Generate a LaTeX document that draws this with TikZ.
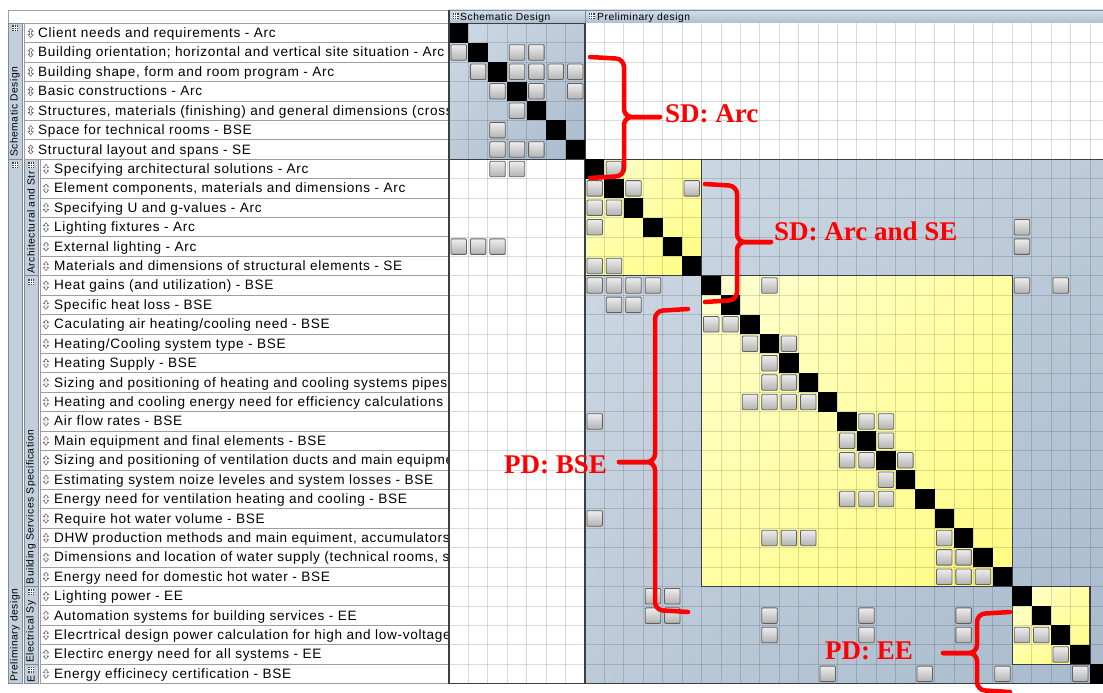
\documentclass[tikz,border=0pt]{standalone}
\usepackage{fontspec}
\setmainfont{Liberation Sans}[LetterSpace=5]
\newfontfamily\bracefont{Liberation Serif}
\usetikzlibrary{positioning,shadings}

\definecolor{barbl}{HTML}{C3D0DC}
\definecolor{barln}{HTML}{7D8A98}
\definecolor{hdA}{HTML}{D3DEE8}
\definecolor{hdB}{HTML}{AEBFCF}
\definecolor{blA}{HTML}{CFDAE5}
\definecolor{blB}{HTML}{BDCBD9}
\definecolor{blC}{HTML}{A7BACC}
\definecolor{ylA}{HTML}{FFFFD4}
\definecolor{ylB}{HTML}{FFFFA2}
\definecolor{ylC}{HTML}{FFFB82}
\definecolor{blkln}{HTML}{3A3F46}

\tikzset{
  rowlbl/.style={anchor=base west, inner sep=0pt, font=\fontsize{13.6}{14}\selectfont},
  cellbox/.style={draw=black!38, line width=.9pt, fill=white},
  barbox/.style={draw=barln, line width=.8pt, fill=barbl},
  barlbl/.style={rotate=90, anchor=west, inner sep=0pt, font=\fontsize{10.3}{11}\selectfont},
  hdrlbl/.style={anchor=base west, inner sep=0pt, font=\fontsize{10.3}{11}\selectfont},
  blk/.style={draw=blkln, line width=1.3pt},
  gridln/.style={draw=black, opacity=.14, line width=.7pt},
  mk/.style={draw=black!62, line width=.8pt, rounded corners=1pt, top color=black!7,
    bottom color=black!30, minimum size=15.5pt, inner sep=0pt, outer sep=0pt},
  dg/.style={fill=black, minimum size=19.42pt, inner sep=0pt, outer sep=0pt},
  brc/.style={draw=red, line width=4.5pt, rounded corners=8pt, line cap=round},
  brclbl/.style={text=red, inner sep=0pt, font=\bracefont\bfseries\fontsize{27}{30}\selectfont},
  gico/.pic={\fill[black!75] (-3,-3) rectangle (3,3);
    \draw[white, line width=.5pt] (-3,-1) -- (3,-1) (-3,1) -- (3,1) (-1,-3) -- (-1,3) (1,-3) -- (1,3);},
  updn/.pic={\draw[black!70, line width=.45pt, fill=white] (0,-4.5) -- (2.6,-1.6) -- (1,-1.6)
    -- (1,1.6) -- (2.6,1.6) -- (0,4.5) -- (-2.6,1.6) -- (-1,1.6) -- (-1,-1.6) -- (-2.6,-1.6) -- cycle;}
}

\begin{document}
\begin{tikzpicture}[x=1pt,y=-1pt]
\useasboundingbox (0,0) rectangle (1103,693);
\clip (0,0) rectangle (1103,693);

% header strip
\draw[cellbox] (8,10) rectangle (449,23.3);
\shade[draw=barln, top color=hdA, bottom color=hdB] (449,10) rectangle (585,23.3);
\shade[draw=barln, top color=hdA, bottom color=hdB] (585,10) rectangle (1110,23.3);
\pic at (455.5,16.5) {gico};
\pic at (591.5,16.5) {gico};
\node[hdrlbl] (hsd) at (460,20.6) {Schematic Design};
\node[hdrlbl] (hpd) at (597,20.6) {Preliminary design};

% matrix
\begin{scope}[shift={(449,23.3)}, x=19.42pt, y=-19.42pt]
  \fill[white] (0,0) rectangle (34,34);
  \shade[upper left=blA, upper right=blB, lower left=blB, lower right=blC] (0,0) rectangle (7,7);
  \shade[upper left=blA, upper right=blB, lower left=blB, lower right=blC] (7,7) rectangle (34,34);
  \foreach \a/\b in {7/13,13/29,29/33}
    \shade[upper left=ylA, upper right=ylB, lower left=ylB, lower right=ylC] (\a,\a) rectangle (\b,\b);
  \foreach \i in {1,...,33}
    \draw[gridln] (\i,0) -- (\i,34) (0,\i) -- (34,\i);
  \draw[blk] (0,0) rectangle (7,7);
  \draw[blk] (7,0) -- (7,34) (0,7) -- (34,7) (0,0) -- (0,34) -- (34,34);
  \foreach \a/\b in {7/13,13/29,29/33}
    \draw[blk] (\a,\a) rectangle (\b,\b);
  \foreach \r in {0,...,33}
    \node[dg] (d\r) at (\r+.5,\r+.5) {};
  \foreach \r/\cs in {1/{0,3,4},2/{1,3,4,5,6},3/{2,4,6},4/{3},5/{2},6/{2,3,4},
      7/{2,3,8},8/{7,9,12},9/{7,8},10/{7,29},11/{0,1,2,29},12/{7,8},
      13/{7,8,9,10,16,29,31},14/{8,9},15/{13,14},16/{15,17},17/{16},18/{16,17},
      19/{15,16,17,18},20/{7,21,22},21/{20,22},22/{20,21,23},23/{22},24/{20,21,22},
      25/{7},26/{16,17,18,25},27/{25,26},28/{25,26,27},29/{10,11},30/{10,11,16,21,26},
      31/{16,21,26,29,30},32/{31},33/{19,24,28,32}}
    \foreach \c in \cs
      \node[mk] (m\r-\c) at (\c+.5,\r+.5) {};
\end{scope}

% group bars
\draw[barbox] (8,23.3) rectangle (22,159.2);
\draw[barbox] (8,159.2) rectangle (22,683.6);
\draw[barbox] (24,159.2) rectangle (38,275.8);
\draw[barbox] (24,275.8) rectangle (38,586.5);
\draw[barbox] (24,586.5) rectangle (38,664.2);
\draw[barbox] (24,664.2) rectangle (38,683.6);
\node[barlbl] (gsd) at (15,157) {Schematic Design};
\node[barlbl] (gpd) at (15,682) {Preliminary design};
\begin{scope}
  \clip (24,169) rectangle (38,275.8);
  \node[barlbl] (garc) at (31,274) {Architectural and Str};
\end{scope}
\node[barlbl] (gbse) at (31,584.5) {Building Services Specification};
\begin{scope}
  \clip (24,596) rectangle (38,664.2);
  \node[barlbl] (gee) at (31,663) {Electrical Sy};
\end{scope}
\node[barlbl] (gcert) at (31,683) {E};
\foreach \p in {(15,28),(15,165),(31,165),(31,282),(31,592),(31,669.5)}
  \pic at \p {gico};

% row labels
\begin{scope}
\clip (0,0) rectangle (447.8,693);
\foreach \r/\t in {0/{Client needs and requirements - Arc},
    1/{Building orientation; horizontal and vertical site situation - Arc},
    2/{Building shape, form and room program - Arc},
    3/{Basic constructions - Arc},
    4/{Structures, materials (finishing) and general dimensions (cross},
    5/{Space for technical rooms - BSE},
    6/{Structural layout and spans - SE}}{
  \draw[cellbox] (24,{23.3+19.42*\r}) rectangle (449,{23.3+19.42*(\r+1)});
  \pic at (30.7,{23.3+19.42*(\r+.5)}) {updn};
  \node[rowlbl] (l\r) at (38,{23.3+19.42*\r+14.2}) {\t};
}
\foreach \r/\t in {7/{Specifying architectural solutions - Arc},
    8/{Element components, materials and dimensions - Arc},
    9/{Specifying U and g-values - Arc},
    10/{Lighting fixtures - Arc},
    11/{External lighting - Arc},
    12/{Materials and dimensions of structural elements - SE},
    13/{Heat gains (and utilization) - BSE},
    14/{Specific heat loss - BSE},
    15/{Caculating air heating/cooling need - BSE},
    16/{Heating/Cooling system type - BSE},
    17/{Heating Supply - BSE},
    18/{Sizing and positioning of heating and cooling systems pipes},
    19/{Heating and cooling energy need for efficiency calculations},
    20/{Air flow rates - BSE},
    21/{Main equipment and final elements - BSE},
    22/{Sizing and positioning of ventilation ducts and main equipme},
    23/{Estimating system noize leveles and system losses - BSE},
    24/{Energy need for ventilation heating and cooling - BSE},
    25/{Require hot water volume - BSE},
    26/{DHW production methods and main equiment, accumulators},
    27/{Dimensions and location of water supply (technical rooms, s},
    28/{Energy need for domestic hot water - BSE},
    29/{Lighting power - EE},
    30/{Automation systems for building services - EE},
    31/{Elecrtrical design power calculation for high and low-voltage},
    32/{Electirc energy need for all systems - EE},
    33/{Energy efficinecy certification - BSE}}{
  \draw[cellbox] (40,{23.3+19.42*\r}) rectangle (449,{23.3+19.42*(\r+1)});
  \pic at (46,{23.3+19.42*(\r+.5)}) {updn};
  \node[rowlbl] (l\r) at (54,{23.3+19.42*\r+14.2}) {\t};
}
\end{scope}
\draw[blk] (449,10) -- (449,683.6);

% braces
\draw[brc] (590,57) -- (624,59) -- (624,117) -- (660,117);
\draw[brc] (590,178) -- (624,176) -- (624,117) -- (660,117);
\node[brclbl, anchor=base west] (bsdarc) at (665,122) {SD: Arc};
\draw[brc] (705,184) -- (737,186) -- (737,242) -- (771,242);
\draw[brc] (705,302) -- (737,300) -- (737,242) -- (771,242);
\node[brclbl, anchor=base west] (bsdse) at (774,240) {SD: Arc and SE};
\draw[brc] (688,309) -- (655,311) -- (655,462) -- (619,462);
\draw[brc] (688,612) -- (655,610) -- (655,462) -- (619,462);
\node[brclbl, anchor=base east] (bpdbse) at (607,473) {PD: BSE};
\draw[brc] (1010,612) -- (977,614) -- (977,653) -- (943,653);
\draw[brc] (1010,692) -- (977,690) -- (977,653) -- (943,653);
\node[brclbl, anchor=base east] (bpdee) at (913,659) {PD: EE};
\end{tikzpicture}
\end{document}
